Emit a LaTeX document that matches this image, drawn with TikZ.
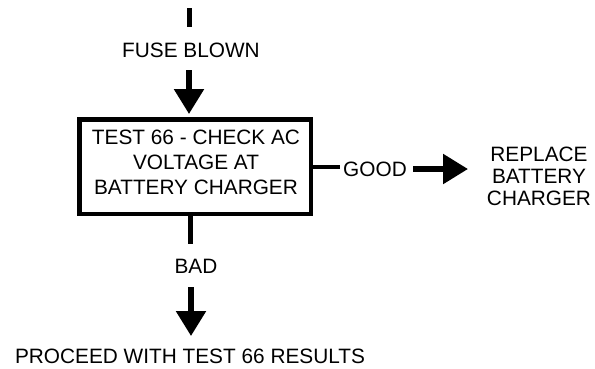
\documentclass[tikz,border=0pt]{standalone}
\usepackage{fontspec}
\setmainfont{Liberation Sans}
\usetikzlibrary{arrows.meta}
\begin{document}
\begin{tikzpicture}[x=1pt,y=-1pt,
  lbl/.style={font=\fontsize{20.8}{21.7}\selectfont, inner sep=0pt, align=center},
  boxlbl/.style={font=\fontsize{20.8}{25}\selectfont, align=center},
  stepbox/.style={draw, line width=4.5pt, inner sep=0pt, minimum width=231.5pt, minimum height=94.5pt},
  conn/.style={line width=5pt},
  hconn/.style={line width=4pt},
  arr/.style={line width=5.5pt, -{Triangle[width=29pt,length=25pt]}}]
\useasboundingbox (0,0) rectangle (595,368);
% nodes
\node[lbl] (fuse) at (191,50.5) {FUSE BLOWN};
\node[stepbox] (box) at (195,166.5) {};
\node[boxlbl, inner sep=0pt] (boxtxt) at (196,162.5) {TEST 66 - CHECK AC\\VOLTAGE AT\\BATTERY CHARGER};
\node[lbl] (good) at (375,169.5) {GOOD};
\node[lbl] (replace) at (539,176.5) {REPLACE\\BATTERY\\CHARGER};
\node[lbl] (bad) at (196,266) {BAD};
\node[lbl] (proceed) at (190,356.5) {PROCEED WITH TEST 66 RESULTS};
% free ends
\coordinate (top) at (189,8);
\coordinate (topend) at (189,27);
\coordinate (fusearr) at (189,70);
\coordinate (fusetip) at (189,114);
\coordinate (boxbot) at (190.5,214);
\coordinate (badtop) at (190.5,244);
\coordinate (badarr) at (191,287);
\coordinate (badtip) at (191,336);
\coordinate (goodline) at (340,167);
\coordinate (goodarr) at (413,169);
\coordinate (goodtip) at (468,169);
% connectors
\draw[conn] (top) -- (topend);
\draw[arr] (fusearr) -- (fusetip);
\draw[hconn] (box.east |- goodline) -- (goodline);
\draw[arr] (goodarr) -- (goodtip);
\draw[conn] (boxbot) -- (badtop);
\draw[arr] (badarr) -- (badtip);
\end{tikzpicture}
\end{document}
